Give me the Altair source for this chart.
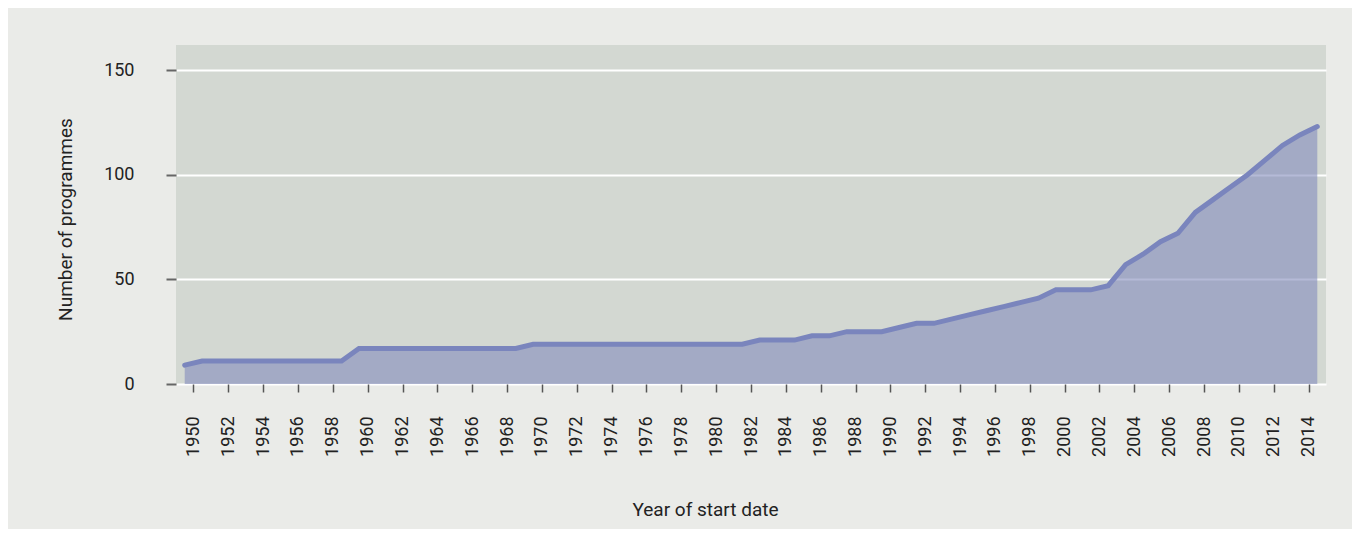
import altair as alt
import pandas as pd

years = list(range(1949, 2015))
programmes = [
    9,
    11, 11, 11, 11, 11, 11, 11, 11, 11,
    17, 17, 17, 17, 17, 17, 17, 17, 17, 17,
    19, 19, 19, 19, 19, 19, 19, 19, 19, 19, 19, 19, 19,
    21, 21, 21,
    23, 23,
    25, 25, 25,
    27, 29, 29, 31, 33, 35, 37, 39, 41, 45,
    45, 45, 47, 57, 62, 68, 72, 82, 88, 94,
    100, 107, 114, 119, 123,
]
tick_years = list(range(1950, 2015, 2))
y_ticks = [0, 50, 100, 150]

df = pd.DataFrame({"year": years, "count": programmes})

FONT = "Roboto"
LINE = "#7a85bd"

base = alt.Chart(df).transform_calculate(pos="datum.year + 0.5")

x_axis = alt.Axis(
    values=tick_years,
    format="d",
    labelAngle=-90,
    labelFont=FONT,
    labelFontSize=18,
    labelColor="#222222",
    labelPadding=24,
    labelOverlap=False,
    labelBound=False,
    labelFlush=False,
    tickSize=8,
    tickColor="#555555",
    tickWidth=1.5,
    domain=False,
    grid=False,
    title="Year of start date",
    titleFont=FONT,
    titleFontSize=19,
    titleFontWeight="normal",
    titleColor="#222222",
    titleX=529,
    titleY=131,
    titleBaseline="alphabetic",
    titleAlign="center",
)

y_axis = alt.Axis(
    values=y_ticks,
    labelFont=FONT,
    labelFontSize=18,
    labelColor="#222222",
    labelPadding=32,
    labelOverlap=False,
    tickSize=10,
    tickColor="#666666",
    tickWidth=2,
    domain=False,
    grid=True,
    gridColor="#ffffff",
    gridWidth=2,
    title="Number of programmes",
    titleFont=FONT,
    titleFontSize=19,
    titleFontWeight="normal",
    titleColor="#222222",
    titleAngle=-90,
    titleX=-111,
    titleY=174,
    titleBaseline="middle",
    titleAlign="center",
)

x_enc = alt.X(
    "pos:Q",
    scale=alt.Scale(domain=[1949, 2015], nice=False, zero=False),
    axis=x_axis,
)
y_enc = alt.Y("count:Q", scale=alt.Scale(domain=[0, 162], nice=False), axis=y_axis)

area = base.mark_area(color="#848cbd", opacity=0.6).encode(x=x_enc, y=y_enc)
line = base.mark_line(color=LINE, strokeWidth=5, strokeCap="round").encode(
    x=x_enc, y=y_enc
)

chart = (
    alt.layer(area, line)
    .properties(
        width=1150,
        height=339,
        background="#eaebe8",
        autosize=alt.AutoSizeParams(type="none"),
        padding={"left": 168, "top": 37, "right": 26, "bottom": 145},
    )
    .configure_view(fill="#d3d8d2", stroke=None)
    .configure_axis(labelOverlap=False)
    .configure_axisX(labelOverlap=False)
)

chart.save("out.html", embed_options={"renderer": "svg", "actions": False})
